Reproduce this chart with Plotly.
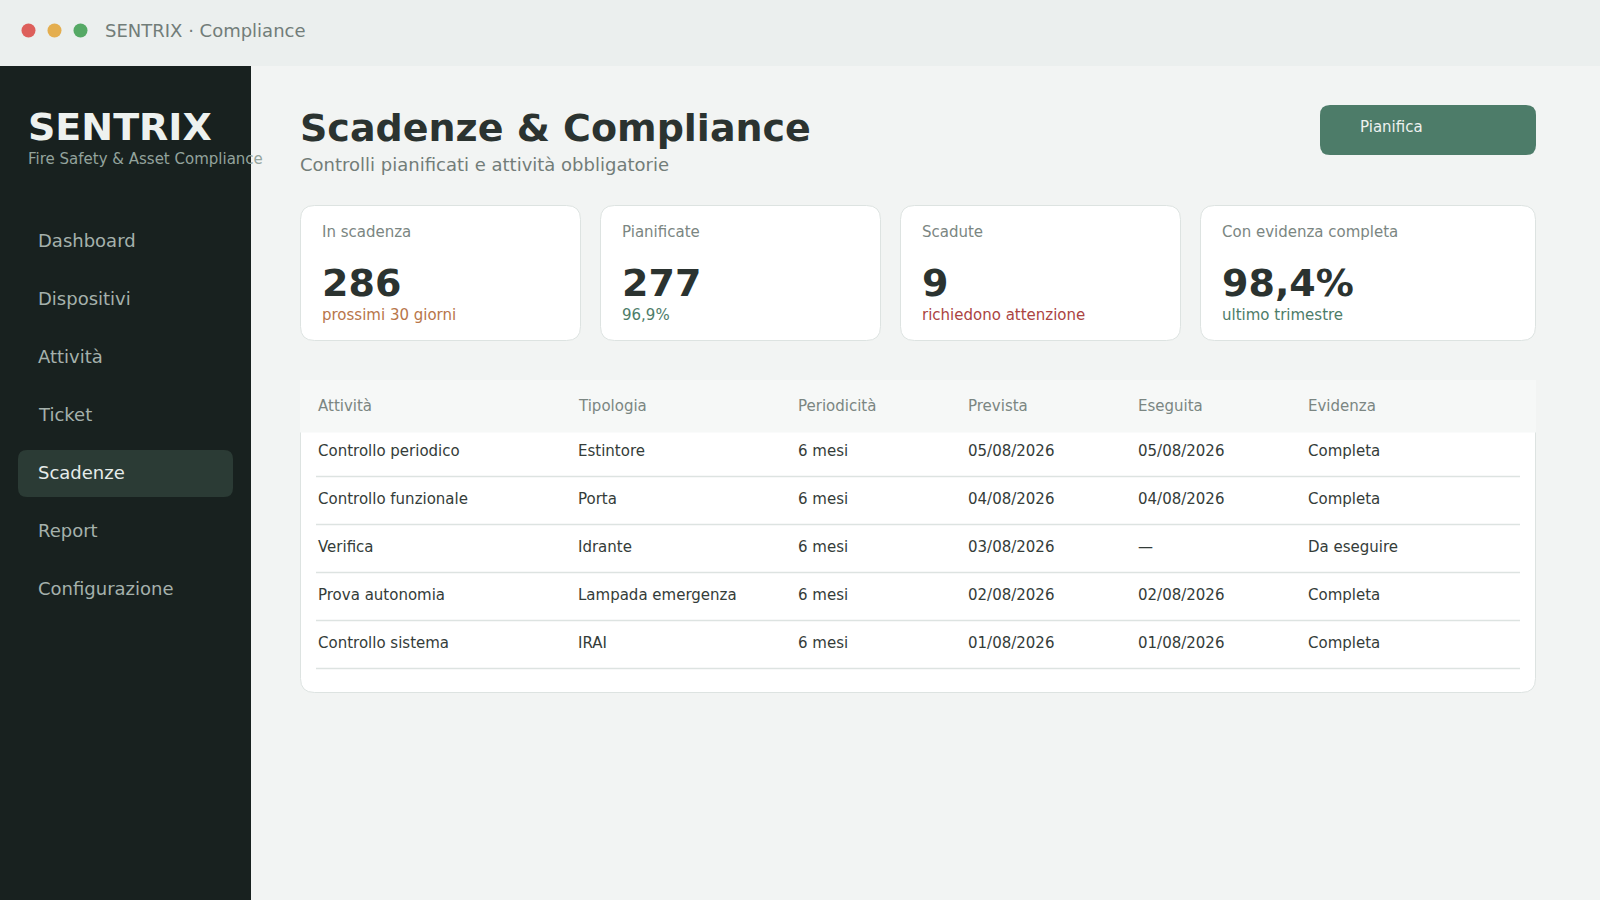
import plotly.graph_objects as go

WIDTH = 1600
HEIGHT = 900

# finestra
WINDOW_TITLE = "SENTRIX · Compliance"
DOT_COLORS = ["#dd5f5b", "#e4ae4f", "#55a965"]

# sidebar
BRAND = "SENTRIX"
BRAND_SUB = "Fire Safety & Asset Compliance"
NAV_ITEMS = ["Dashboard", "Dispositivi", "Attività", "Ticket", "Scadenze", "Report", "Configurazione"]
NAV_ACTIVE = "Scadenze"

# intestazione
PAGE_TITLE = "Scadenze & Compliance"
PAGE_SUB = "Controlli pianificati e attività obbligatorie"
BUTTON_LABEL = "Pianifica"

# kpi
KPI_LABELS = ["In scadenza", "Pianificate", "Scadute", "Con evidenza completa"]
KPI_VALUES = ["286", "277", "9", "98,4%"]
KPI_NOTES = ["prossimi 30 giorni", "96,9%", "richiedono attenzione", "ultimo trimestre"]
KPI_NOTE_COLORS = ["#b8764a", "#4d7c69", "#ab4442", "#4d7c69"]

# tabella
COLUMNS = ["Attività", "Tipologia", "Periodicità", "Prevista", "Eseguita", "Evidenza"]
ATTIVITA = ["Controllo periodico", "Controllo funzionale", "Verifica", "Prova autonomia", "Controllo sistema"]
TIPOLOGIA = ["Estintore", "Porta", "Idrante", "Lampada emergenza", "IRAI"]
PERIODICITA = ["6 mesi", "6 mesi", "6 mesi", "6 mesi", "6 mesi"]
PREVISTA = ["05/08/2026", "04/08/2026", "03/08/2026", "02/08/2026", "01/08/2026"]
ESEGUITA = ["05/08/2026", "04/08/2026", "—", "02/08/2026", "01/08/2026"]
EVIDENZA = ["Completa", "Completa", "Da eseguire", "Completa", "Completa"]

FONT = "DejaVu Sans"
BORDER = "#dde3e1"
INK = "#2b3330"
CELL_INK = "#343c39"
MUTED = "#7b8682"


def rounded(x0, y0, x1, y1, r):
    return (f"M{x0+r},{y0} L{x1-r},{y0} Q{x1},{y0} {x1},{y0+r} L{x1},{y1-r} Q{x1},{y1} {x1-r},{y1} "
            f"L{x0+r},{y1} Q{x0},{y1} {x0},{y1-r} L{x0},{y0+r} Q{x0},{y0} {x0+r},{y0} Z")


def box(x0, y0, x1, y1, fill, line=None):
    return dict(type="rect", x0=x0, y0=y0, x1=x1, y1=y1, xref="x", yref="y", layer="below",
                fillcolor=fill, line=dict(width=0 if line is None else 1, color=line or fill))


def round_box(x0, y0, x1, y1, r, fill, line=None):
    return dict(type="path", path=rounded(x0, y0, x1, y1, r), xref="x", yref="y", layer="below",
                fillcolor=fill, line=dict(width=0 if line is None else 1, color=line or fill))


def label(x, baseline, text, size, color, bold=False):
    # y centrata sul box del testo: baseline meno circa 0.346 em per DejaVu
    return dict(x=x - 1.1, y=baseline - 0.346 * size, xref="x", yref="y", text=f"<b>{text}</b>" if bold else text,
                xanchor="left", yanchor="middle", showarrow=False, borderpad=0,
                font=dict(family=FONT, size=size, color=color))


shapes = [
    box(0, 0, WIDTH, 66, "#ebefee"),
    box(0, 66, 251, HEIGHT, "#18211f"),
]
notes = [
    label(105, 36.5, WINDOW_TITLE, 18, "#727d79"),
    label(28, 139.8, BRAND, 38, "#edf1ef", bold=True),
    label(28, 164.4, BRAND_SUB, 15, "#93a39c"),
    label(300, 140.8, PAGE_TITLE, 38, INK, bold=True),
    label(300, 171, PAGE_SUB, 18, "#727d79"),
    label(1360, 132.5, BUTTON_LABEL, 15, "#edf1ef"),
]

# menu laterale
for i, item in enumerate(NAV_ITEMS):
    base = 247 + 58 * i
    active = item == NAV_ACTIVE
    if active:
        shapes.append(round_box(18, base - 29, 233, base + 18, 9, "#2b3b35"))
    notes.append(label(38, base, item, 18, "#e6ecea" if active else "#a5b1ac"))

shapes.append(round_box(1320, 105, 1536, 155, 10, "#4d7c69"))

# schede kpi
card_x0 = [300.5, 600.5, 900.5, 1200.5]
card_x1 = [580.5, 880.5, 1180.5, 1535.5]
for i in range(len(KPI_LABELS)):
    shapes.append(round_box(card_x0[i], 205.5, card_x1[i], 340.5, 14, "#ffffff", BORDER))
    tx = card_x0[i] + 21.5
    notes.append(label(tx, 237.3, KPI_LABELS[i], 15, MUTED))
    notes.append(label(tx, 295.7, KPI_VALUES[i], 38, INK, bold=True))
    notes.append(label(tx, 320.4, KPI_NOTES[i], 15, KPI_NOTE_COLORS[i]))

# tabella
shapes.append(round_box(300.5, 380.5, 1535.5, 692.5, 14, "#ffffff", BORDER))
shapes.append(box(300, 380, 1536, 432.5, "#f6f8f7"))
col_x = [318, 578.1, 798, 968, 1138, 1308]
for x, col in zip(col_x, COLUMNS):
    notes.append(label(x, 411.3, col, 15, MUTED))

rows = [ATTIVITA, TIPOLOGIA, PERIODICITA, PREVISTA, ESEGUITA, EVIDENZA]
line_x = []
line_y = []
for r in range(len(ATTIVITA)):
    for x, col in zip(col_x, rows):
        notes.append(label(x, 456.5 + 48 * r, col[r], 15, CELL_INK))
    line_x += [316, 1520, None]
    line_y += [476.5 + 48 * r, 476.5 + 48 * r, None]

fig = go.Figure()
fig.add_trace(go.Scatter(x=line_x, y=line_y, mode="lines", line=dict(color=BORDER, width=1.5),
                         hoverinfo="skip", showlegend=False))
fig.add_trace(go.Scatter(x=[28.5, 54.5, 80.5], y=[30.5, 30.5, 30.5], mode="markers",
                         marker=dict(size=14, color=DOT_COLORS), hoverinfo="skip", showlegend=False))

fig.update_layout(
    width=WIDTH, height=HEIGHT, margin=dict(l=0, r=0, t=0, b=0),
    paper_bgcolor="#f2f4f3", plot_bgcolor="rgba(0,0,0,0)",
    xaxis=dict(range=[0, WIDTH], visible=False, fixedrange=True),
    yaxis=dict(range=[HEIGHT, 0], visible=False, fixedrange=True),
    shapes=shapes, annotations=notes, font=dict(family=FONT),
)
fig.write_html("out.html", config={"displayModeBar": False},
               post_script="document.body.style.margin='0';document.body.style.overflow='hidden';")
